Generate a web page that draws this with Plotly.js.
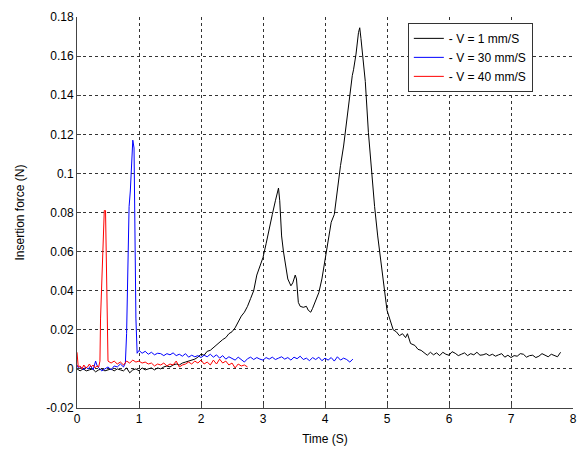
<!DOCTYPE html>
<html>
<head>
<meta charset="utf-8">
<script src="https://cdn.plot.ly/plotly-3.0.1.min.js"></script>
<style>html,body{margin:0;padding:0;background:#fff}#chart{width:581px;height:449px}</style>
</head>
<body>
<div id="chart"></div>
<script>
// Series names
const seriesNames = ["- V = 1 mm/S", "- V = 30 mm/S", "- V = 40 mm/S"];

// V = 1 mm/S
const t1 = [0,0.05,0.1,0.15,0.2,0.25,0.3,0.35,0.4,0.45,0.5,0.55,0.6,0.65,0.7,0.75,0.8,0.85,0.9,0.95,1.0,1.05,1.1,1.15,1.2,1.25,1.3,1.35,1.4,1.45,1.5,1.55,1.6,1.65,1.7,1.75,1.8,1.85,1.9,1.95,2.0,2.05,2.1,2.15,2.2,2.25,2.3,2.35,2.4,2.45,2.5,2.55,2.6,2.65,2.7,2.75,2.8,2.85,2.9,2.95,3.0,3.05,3.1,3.15,3.2,3.23,3.25,3.27,3.3,3.33,3.37,3.4,3.45,3.48,3.52,3.54,3.57,3.6,3.65,3.7,3.73,3.77,3.8,3.85,3.9,3.95,4.0,4.05,4.1,4.15,4.2,4.25,4.3,4.35,4.4,4.44,4.46,4.5,4.54,4.56,4.58,4.6,4.65,4.7,4.75,4.8,4.85,4.9,4.95,5.0,5.05,5.1,5.15,5.2,5.25,5.3,5.33,5.38,5.45,5.5,5.55,5.6,5.65,5.7,5.75,5.8,5.85,5.9,5.95,6.0,6.05,6.1,6.15,6.2,6.25,6.3,6.35,6.4,6.45,6.5,6.55,6.6,6.65,6.7,6.75,6.8,6.85,6.9,6.95,7.0,7.05,7.1,7.15,7.2,7.25,7.3,7.35,7.4,7.45,7.5,7.55,7.6,7.65,7.7,7.75,7.8,7.85,7.9];
const v1 = [0,-0.001,0,-0.001,-0.0005,0,-0.0015,-0.0005,0,-0.001,-0.0005,0,-0.001,0,-0.0005,-0.001,0.0005,-0.002,-0.0005,0,-0.001,0.0005,-0.0005,0,0.0005,-0.0005,0.0005,0,0.001,0.0015,0.001,0.002,0.0025,0.002,0.003,0.0035,0.004,0.0045,0.005,0.006,0.0075,0.007,0.009,0.0095,0.011,0.012,0.0135,0.015,0.016,0.018,0.019,0.021,0.024,0.027,0.029,0.032,0.036,0.04,0.048,0.052,0.057,0.064,0.072,0.079,0.086,0.09,0.0925,0.086,0.068,0.06,0.052,0.046,0.0425,0.044,0.048,0.046,0.034,0.032,0.0315,0.032,0.03,0.029,0.031,0.035,0.039,0.046,0.055,0.066,0.075,0.079,0.092,0.104,0.114,0.128,0.139,0.15,0.153,0.161,0.172,0.1745,0.169,0.162,0.147,0.121,0.1,0.083,0.068,0.055,0.04,0.03,0.025,0.02,0.019,0.017,0.018,0.016,0.018,0.013,0.012,0.01,0.0095,0.008,0.007,0.0085,0.0072,0.0082,0.0068,0.0085,0.0075,0.007,0.0088,0.008,0.0068,0.0075,0.0082,0.0068,0.0078,0.0072,0.0085,0.007,0.0072,0.0078,0.0068,0.0075,0.0065,0.0072,0.0078,0.006,0.007,0.0058,0.0068,0.0065,0.0078,0.0075,0.006,0.0068,0.007,0.0058,0.0065,0.0078,0.0072,0.0062,0.0075,0.0068,0.0062,0.0085];

// V = 30 mm/S
const t30 = [0,0.03,0.06,0.1,0.14,0.18,0.22,0.26,0.3,0.32,0.35,0.4,0.45,0.5,0.55,0.6,0.65,0.7,0.75,0.78,0.8,0.82,0.84,0.86,0.88,0.9,0.92,0.935,0.95,0.97,1.0,1.05,1.1,1.15,1.2,1.25,1.3,1.35,1.4,1.45,1.5,1.55,1.6,1.65,1.7,1.75,1.8,1.85,1.9,1.95,2.0,2.05,2.1,2.15,2.2,2.25,2.3,2.35,2.4,2.45,2.5,2.55,2.6,2.65,2.7,2.75,2.8,2.85,2.9,2.95,3.0,3.05,3.1,3.15,3.2,3.25,3.3,3.35,3.4,3.45,3.5,3.55,3.6,3.65,3.7,3.75,3.8,3.85,3.9,3.95,4.0,4.05,4.1,4.15,4.2,4.25,4.3,4.35,4.4,4.45];
const v30 = [0.002,0,0.001,-0.0005,0.001,0,0.0015,-0.0005,0.004,0.002,0.0005,-0.001,0,0.001,-0.0005,0.0015,0.001,0.0025,0.001,0.003,0.018,0.06,0.083,0.091,0.103,0.117,0.113,0.073,0.026,0.008,0.0095,0.008,0.009,0.0075,0.0085,0.0072,0.008,0.0078,0.0068,0.0078,0.0072,0.0082,0.0068,0.0075,0.0065,0.0078,0.006,0.007,0.0062,0.0068,0.0058,0.007,0.0062,0.0075,0.006,0.0072,0.0055,0.0068,0.005,0.0062,0.0055,0.0045,0.006,0.0048,0.0035,0.0052,0.006,0.0048,0.0058,0.005,0.0045,0.0058,0.005,0.006,0.0048,0.0055,0.0062,0.005,0.0058,0.0045,0.006,0.0052,0.0065,0.0048,0.0055,0.0042,0.0058,0.0048,0.006,0.0042,0.0055,0.0045,0.0058,0.004,0.0062,0.0045,0.0055,0.0048,0.0035,0.005];

// V = 40 mm/S
const t40 = [0,0.02,0.05,0.08,0.11,0.14,0.17,0.2,0.23,0.26,0.29,0.32,0.35,0.37,0.38,0.4,0.42,0.44,0.46,0.47,0.49,0.5,0.55,0.6,0.65,0.7,0.75,0.8,0.85,0.9,0.95,1.0,1.05,1.1,1.15,1.2,1.25,1.3,1.35,1.4,1.45,1.5,1.55,1.6,1.65,1.7,1.75,1.8,1.85,1.9,1.95,2.0,2.05,2.1,2.15,2.2,2.25,2.3,2.35,2.4,2.45,2.5,2.55,2.6,2.65,2.7,2.75];
const v40 = [0.0085,0.001,0.0015,0,0.002,0.0005,0.001,0.0025,0.001,0.002,0.0005,0.0015,0.001,0.004,0.026,0.042,0.059,0.081,0.081,0.061,0.021,0.004,0.003,0.004,0.0025,0.0035,0.002,0.004,0.003,0.0045,0.0035,0.004,0.003,0.0035,0.0025,0.003,0.0015,0.0025,0.002,0.003,0.0015,0.0025,0.002,0.004,0.001,0.002,0.0025,0.0035,0.0025,0.004,0.003,0.0045,0.0025,0.0035,0.002,0.0045,0.0025,0.005,0.003,0.004,0.002,0.003,0.0005,0.0025,0.0015,0.002,0.001];

// Tick labels
const xTickVals = [0,1,2,3,4,5,6,7,8];
const xTickText = ["0","1","2","3","4","5","6","7","8"];
const yTickVals = [-0.02,0,0.02,0.04,0.06,0.08,0.1,0.12,0.14,0.16,0.18];
const yTickText = ["-0.02","0","0.02","0.04","0.06","0.08","0.1","0.12","0.14","0.16","0.18"];

const colors = ["#000000", "#0000ff", "#ff0000"];
const xs = [t1, t30, t40];
const ys = [v1, v30, v40];

const traces = xs.map((x, i) => ({
  x: x, y: ys[i], type: "scatter", mode: "lines", name: seriesNames[i],
  line: {color: colors[i], width: 1}
}));

const font = {family: "Liberation Sans, Arial, sans-serif", size: 12, color: "#000"};
const axisCommon = {
  showgrid: true, gridcolor: "#333", griddash: "3px,3px", gridwidth: 1,
  zeroline: false, showline: true, linecolor: "#444", linewidth: 1,
  ticks: "inside", ticklen: 4, tickcolor: "#444", tickfont: font, mirror: false
};

const layout = {
  width: 581, height: 449,
  margin: {l: 77, r: 8, t: 17, b: 41},
  paper_bgcolor: "#fff", plot_bgcolor: "#fff",
  font: font,
  showlegend: true,
  legend: {x: 0.667, y: 0.985, xanchor: "left", yanchor: "top",
    bgcolor: "#fff", bordercolor: "#333", borderwidth: 1,
    font: font, itemwidth: 30, tracegroupgap: 0},
  xaxis: Object.assign({}, axisCommon, {range: [0, 8], tickvals: xTickVals, ticktext: xTickText,
    title: {text: "Time (S)", font: font, standoff: 9}}),
  yaxis: Object.assign({}, axisCommon, {range: [-0.02, 0.18], tickvals: yTickVals, ticktext: yTickText,
    title: {text: "Insertion force (N)", font: font, standoff: 19}})
};

Plotly.newPlot("chart", traces, layout, {displayModeBar: false, staticPlot: true});
</script>
</body>
</html>
